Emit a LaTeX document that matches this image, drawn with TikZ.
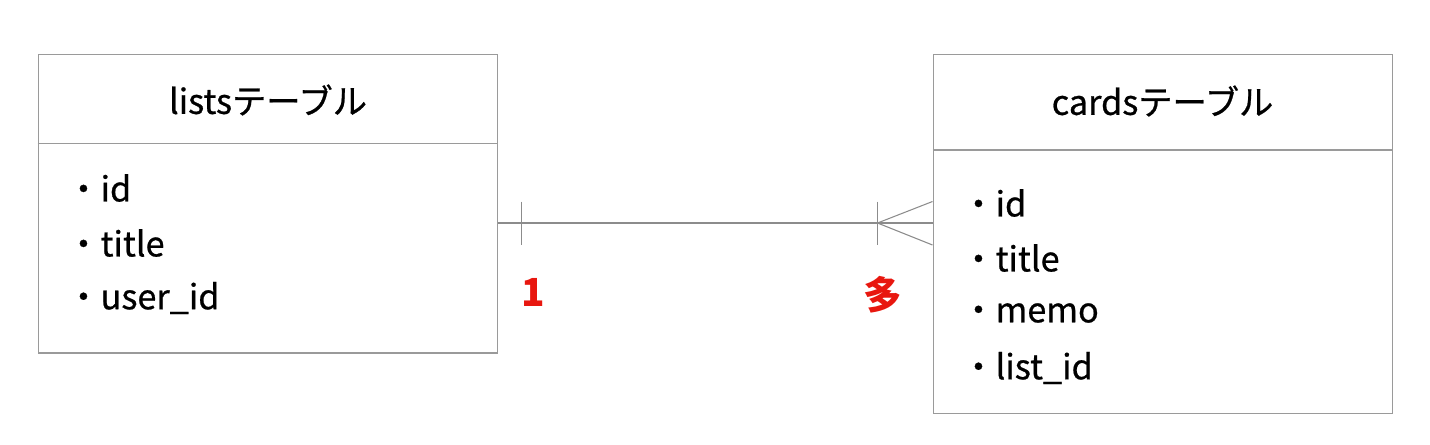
\documentclass[tikz,border=0pt]{standalone}
\usepackage{fontspec}
\setmainfont{Noto Sans CJK JP}
\newfontfamily\medfont{Noto Sans CJK JP}[FakeBold=0.7]
\usetikzlibrary{positioning, calc}
\definecolor{xline}{HTML}{8C8C8C}
\definecolor{xbox}{HTML}{9A9A9A}
\definecolor{xred}{HTML}{E8170F}
\tikzset{
	tblbox/.style={draw=xbox, line width=0.6pt, inner sep=0pt, anchor=north west},
	tblrule/.style={draw=xbox, line width=0.6pt},
	tblhead/.style={font=\fontsize{19.5}{23}\medfont},
	field/.style={anchor=west, inner sep=0pt, font=\fontsize{19.5}{23}\medfont},
	rel/.style={draw=xline, line width=0.6pt},
	card/.style={text=xred, font=\fontsize{22}{26}\selectfont\bfseries},
}

\begin{document}
\begin{tikzpicture}[x=0.02cm, y=-0.02cm]
	\useasboundingbox (0,0) rectangle (1430,444);

	% lists table
	\node[tblbox, minimum width=9.2cm, minimum height=5.98cm] (lists) at (37.5,53.5) {};
	\draw[tblrule] (37.5,143.5) -- (497.5,143.5);
	\node[tblhead] (listsHead) at (268,100) {listsテーブル};
	\node[field] (listsId) at (66,188) {・id};
	\node[field] (listsTitle) at (66,243) {・title};
	\node[field] (listsUser) at (66,298) {・user\_id};

	% cards table
	\node[tblbox, minimum width=9.2cm, minimum height=7.2cm] (cards) at (932.5,53.5) {};
	\draw[tblrule] (932.5,150) -- (1392.5,150);
	\node[tblhead] (cardsHead) at (1162.5,101) {cardsテーブル};
	\node[field] (cardsId) at (961,203) {・id};
	\node[field] (cardsTitle) at (961,258) {・title};
	\node[field] (cardsMemo) at (961,313) {・memo};
	\node[field] (cardsList) at (961,368) {・list\_id};

	% relation
	\coordinate (relL) at (497.5,223);
	\coordinate (relR) at (932.5,223);
	\coordinate (oneTop) at (521.5,201.5);
	\coordinate (oneBot) at (521.5,245);
	\coordinate (crow) at (877.5,223);
	\coordinate (crowTop) at (877.5,201.5);
	\coordinate (crowBot) at (877.5,245);
	\coordinate (footTop) at (932.5,201.5);
	\coordinate (footBot) at (932.5,245);

	\draw[rel] (relL) -- (relR);
	\draw[rel] (oneTop) -- (oneBot);
	\draw[rel] (crowTop) -- (crowBot);
	\draw[rel] (footTop) -- (crow) -- (footBot);

	\node[card] (oneLbl) at (533,292) {1};
	\node[card] (manyLbl) at (883,295) {多};
\end{tikzpicture}
\end{document}
